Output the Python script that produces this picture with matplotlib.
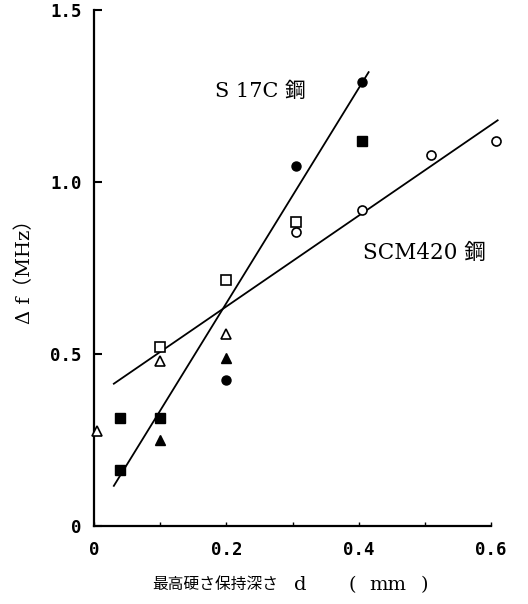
import matplotlib
matplotlib.use("Agg")
import matplotlib.pyplot as plt
import numpy as np

# data
filled_circle_x = [0.20, 0.305, 0.405]
filled_circle_y = [0.425, 1.047, 1.29]
filled_square_x = [0.04, 0.04, 0.10, 0.405]
filled_square_y = [0.163, 0.315, 0.315, 1.12]
filled_tri_x = [0.10, 0.20]
filled_tri_y = [0.25, 0.49]
open_tri_x = [0.005, 0.10, 0.20]
open_tri_y = [0.277, 0.48, 0.56]
open_square_x = [0.10, 0.20, 0.305]
open_square_y = [0.52, 0.717, 0.883]
open_circle_x = [0.305, 0.405, 0.51, 0.607]
open_circle_y = [0.854, 0.918, 1.08, 1.12]

s17c_line_x = [0.03, 0.415]
s17c_line_y = [0.117, 1.32]
scm_line_x = [0.03, 0.61]
scm_line_y = [0.414, 1.18]

x_ticks = [0, 0.1, 0.2, 0.3, 0.4, 0.5, 0.6]
x_ticklabels = ["0", "", "0.2", "", "0.4", "", "0.6"]
y_ticks = [0, 0.5, 1.0, 1.5]
y_ticklabels = ["0", "0.5", "1.0", "1.5"]

jp_font = ["DejaVu Serif", "Noto Sans CJK JP"]

fig = plt.figure(figsize=(5.28, 6.04), dpi=100)
ax = fig.add_axes([0.178, 0.129, 0.752, 0.854])

ax.plot(s17c_line_x, s17c_line_y, color="black", lw=1.3, clip_on=False)
ax.plot(scm_line_x, scm_line_y, color="black", lw=1.3, clip_on=False)

mk = dict(linestyle="none", color="black", clip_on=False, zorder=3)
ax.plot(filled_circle_x, filled_circle_y, marker="o", ms=6.5, **mk)
ax.plot(filled_square_x, filled_square_y, marker="s", ms=6.5, **mk)
ax.plot(filled_tri_x, filled_tri_y, marker="^", ms=6.5, **mk)
ax.plot(open_tri_x, open_tri_y, marker="^", ms=7, mfc="white", mew=1.2, **mk)
ax.plot(open_square_x, open_square_y, marker="s", ms=7.5, mfc="white", mew=1.2, **mk)
ax.plot(open_circle_x, open_circle_y, marker="o", ms=6.5, mfc="white", mew=1.2, **mk)

ax.set_xlim(0, 0.6)
ax.set_ylim(0, 1.5)
ax.spines["top"].set_visible(False)
ax.spines["right"].set_visible(False)
ax.spines["left"].set_linewidth(1.6)
ax.spines["bottom"].set_linewidth(1.6)

ax.set_xticks(x_ticks)
ax.set_xticklabels(x_ticklabels)
ax.set_yticks(y_ticks)
ax.set_yticklabels(y_ticklabels)
ax.tick_params(axis="x", direction="in", length=3, width=1, pad=11)
ax.tick_params(axis="y", direction="in", length=6, width=1.5, pad=9)
for lab in ax.get_xticklabels() + ax.get_yticklabels():
    lab.set_family("DejaVu Sans Mono")
    lab.set_fontweight("bold")
    lab.set_fontsize(12.5)

ax.text(0.251, 1.265, "S 17C 鋼", family=jp_font, fontsize=15,
        ha="center", va="center")
ax.text(0.50, 0.795, "SCM420 鋼", family=jp_font, fontsize=15.5,
        ha="center", va="center")

# x label in pieces to match the wide spacing
ly = 1 - 585 / 604
fig.text(152 / 528, ly, "最高硬さ保持深さ", family=jp_font,
         fontsize=11.3, ha="left", va="center")
fig.text(300 / 528, ly, "d", family=jp_font, fontsize=14,
         ha="center", va="center")
fig.text(352 / 528, ly, "(", family=jp_font, fontsize=14,
         ha="center", va="center")
fig.text(388 / 528, ly, "mm", family=jp_font, fontsize=14,
         ha="center", va="center")
fig.text(424 / 528, ly, ")", family=jp_font, fontsize=14,
         ha="center", va="center")
fig.text(25 / 528, 1 - 267 / 604, "Δ f（MHz）", family=jp_font, fontsize=14,
         rotation=90, ha="center", va="center")

fig.savefig("out.png", dpi=100)
